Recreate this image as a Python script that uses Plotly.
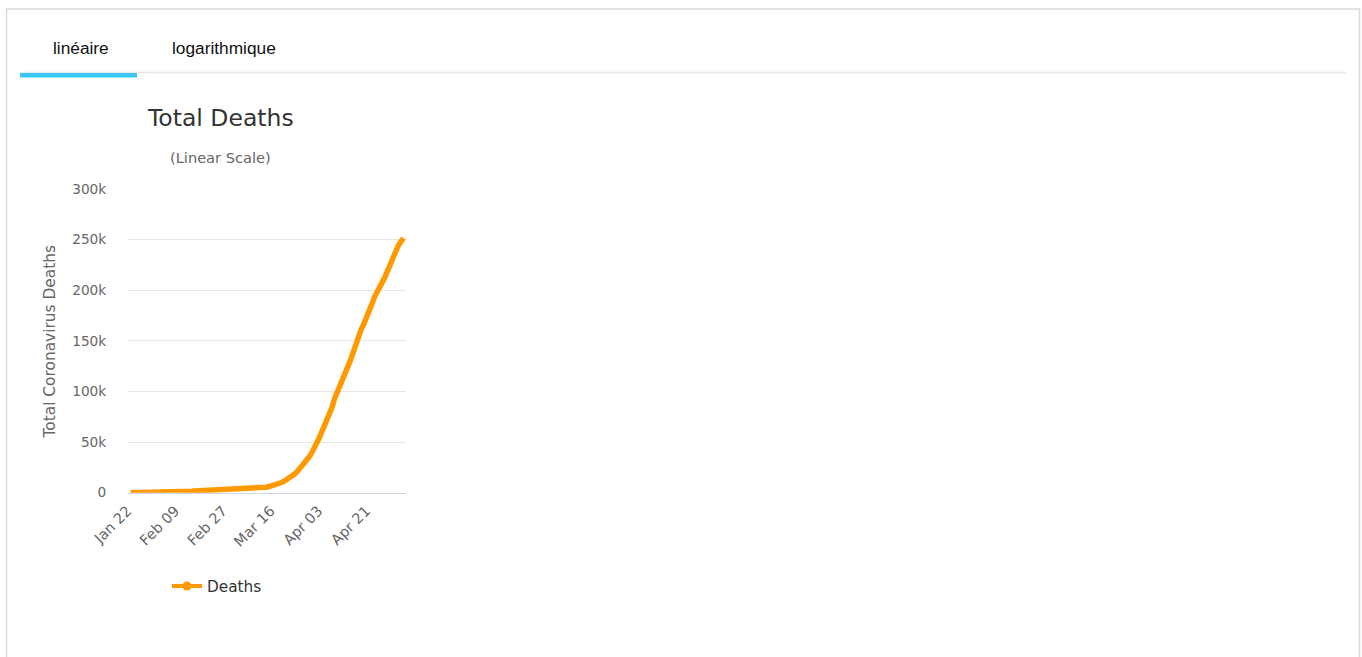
import pandas as pd
import plotly.graph_objects as go

# ---------------- data ----------------
start_date = "2020-01-22"
deaths = [
    17, 25, 41, 56, 80, 106, 132, 170, 213, 259,                     # Jan 22-31
    304, 362, 426, 492, 565, 638, 724, 813, 910, 1018,               # Feb 1-10
    1115, 1261, 1383, 1526, 1669, 1775, 1873, 2009, 2126, 2247,      # Feb 11-20
    2360, 2460, 2618, 2699, 2763, 2800, 2858, 2923, 2977,            # Feb 21-29
    3050, 3117, 3202, 3285, 3387, 3494, 3599, 3827, 4025, 4296,      # Mar 1-10
    4628, 4981, 5428, 5833, 6520, 7162, 7979, 8951, 10030, 11386,    # Mar 11-20
    12985, 14651, 16505, 18625, 21181, 23970, 27198, 30652, 33925, 37582, 42107,  # Mar 21-31
    47500, 53000, 59000, 65000, 70000, 75200, 84000, 93000, 100000, 107000,       # Apr 1-10
    113000, 118500, 124500, 131000, 139000, 147000, 155000, 161000, 166500, 172000,  # Apr 11-20
    179000, 186000, 193000, 199000, 204500, 208000, 213000, 219500, 226600, 233500,  # Apr 21-30
    239000, 244000, 248000, 251500,                                  # May 1-4
]
dates = list(pd.date_range(start_date, periods=len(deaths), freq="D"))

x_tick_dates = ["2020-01-22", "2020-02-09", "2020-02-27", "2020-03-16", "2020-04-03", "2020-04-21"]
x_tick_labels = ["Jan 22", "Feb 09", "Feb 27", "Mar 16", "Apr 03", "Apr 21"]
y_tick_values = [0, 50000, 100000, 150000, 200000, 250000, 300000]
y_tick_labels = ["0", "50k", "100k", "150k", "200k", "250k", "300k"]

series_name = "Deaths"
chart_title = "Total Deaths"
chart_subtitle = "(Linear Scale)"
y_title = "Total Coronavirus Deaths"
tab_labels = ["linéaire", "logarithmique"]

# ---------------- layout helpers ----------------
W, H = 1362, 657
def px(x):
    return x / W
def py(y):
    return 1 - y / H

FONT = "DejaVu Sans"
ORANGE = "#ff9900"

fig = go.Figure()
fig.add_trace(go.Scatter(
    x=dates, y=deaths, mode="lines", name=series_name, showlegend=False,
    line=dict(color=ORANGE, width=5.5, shape="linear"),
    hoverinfo="x+y",
))
# legend entry (line with circle symbol like the original)
fig.add_trace(go.Scatter(
    x=[None], y=[None], mode="lines+markers", name=series_name,
    line=dict(color=ORANGE, width=4), marker=dict(color=ORANGE, size=9, symbol="circle"),
))

fig.update_layout(
    width=W, height=H, autosize=False,
    margin=dict(l=0, r=0, t=0, b=0, pad=0, autoexpand=False),
    paper_bgcolor="white", plot_bgcolor="white",
    font=dict(family=FONT, color="#666666"),
    xaxis=dict(
        type="date", automargin=False,
        domain=[px(128), px(406)],
        range=["2020-01-21 01:30", "2020-05-04 22:30"],
        tickvals=x_tick_dates, ticktext=x_tick_labels,
        tickangle=-45, tickfont=dict(family=FONT, size=14.5, color="#666666"),
        ticklabelshift=-3,
        showgrid=False, zeroline=False,
        showline=True, linecolor="#ccd6eb", linewidth=1,
        ticks="outside", ticklen=3, tickcolor="rgba(0,0,0,0)",
        fixedrange=True,
    ),
    yaxis=dict(
        automargin=False,
        domain=[py(492.7), py(189)],
        range=[0, 300000],
        tickvals=y_tick_values, ticktext=y_tick_labels,
        tickfont=dict(family=FONT, size=13.7, color="#666666"),
        showgrid=True, gridcolor="#e6e6e6", gridwidth=1,
        zeroline=False, showline=False,
        ticks="outside", ticklen=18, tickcolor="rgba(0,0,0,0)",
        fixedrange=True,
    ),
    legend=dict(
        x=px(167), y=py(586), xanchor="left", yanchor="middle",
        orientation="h", bgcolor="rgba(0,0,0,0)",
        font=dict(family=FONT, size=15.3, color="#333333"),
    ),
    showlegend=True,
)

annotations = [
    dict(text=chart_title, x=px(220.5), y=py(118), xref="paper", yref="paper",
         showarrow=False, xanchor="center", yanchor="middle",
         font=dict(family=FONT, size=23.5, color="#333333")),
    dict(text=chart_subtitle, x=px(220.5), y=py(157), xref="paper", yref="paper",
         showarrow=False, xanchor="center", yanchor="middle",
         font=dict(family=FONT, size=14.6, color="#666666")),
    dict(text=y_title, x=px(49), y=py(341.5), xref="paper", yref="paper",
         showarrow=False, xanchor="center", yanchor="middle", textangle=-90,
         font=dict(family=FONT, size=15.4, color="#666666")),
    dict(text=tab_labels[0], x=px(81), y=py(48), xref="paper", yref="paper",
         showarrow=False, xanchor="center", yanchor="middle",
         font=dict(family="Liberation Sans", size=17.3, color="#111111")),
    dict(text=tab_labels[1], x=px(224), y=py(48), xref="paper", yref="paper",
         showarrow=False, xanchor="center", yanchor="middle",
         font=dict(family="Liberation Sans", size=17.3, color="#111111")),
]
fig.update_layout(annotations=annotations)

shapes = [
    # outer panel border
    dict(type="rect", xref="paper", yref="paper",
         x0=px(6.5), x1=px(1359.5), y0=py(720), y1=py(9),
         line=dict(color="#dadada", width=1.5), fillcolor="rgba(0,0,0,0)", layer="above"),
    # tab separator line
    dict(type="line", xref="paper", yref="paper",
         x0=px(20), x1=px(1346), y0=py(72.5), y1=py(72.5),
         line=dict(color="#e8e8e8", width=1.5), layer="above"),
    # active tab underline
    dict(type="rect", xref="paper", yref="paper",
         x0=px(20), x1=px(137), y0=py(77.5), y1=py(73),
         line=dict(width=0), fillcolor="#3cc8f5", layer="above"),
]
fig.update_layout(shapes=shapes)

fig.write_html(
    "out.html",
    config={"displayModeBar": False},
    post_script="document.body.style.margin='0';document.body.style.overflow='hidden';",
)
